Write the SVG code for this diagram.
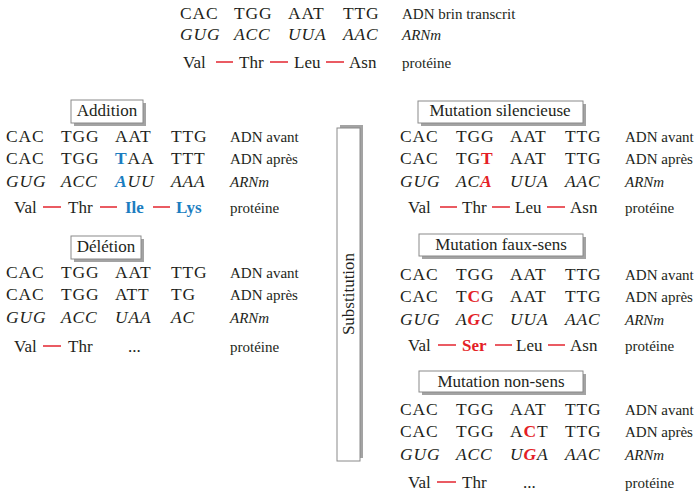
<svg xmlns="http://www.w3.org/2000/svg" width="700" height="496" viewBox="0 0 700 496">
<style>
text{fill:#231f20}
.c{font-size:17.5px;letter-spacing:0.8px}
.i{font-style:italic}
.l{font-size:15px}
.p{font-size:17px}
.t{font-size:17px;text-anchor:middle}
.d{stroke:#e5323b;stroke-width:1.6}
.b{fill:#1b7dc0;font-weight:bold}
.r{fill:#e41e26;font-weight:bold}
.box{fill:#fff;stroke:#8a8a8a;stroke-width:1}
.sh{fill:#a3a3a3}
</style>
<rect width="700" height="496" fill="#fff"/>

<g id="reference" font-family="Liberation Serif">
<text class="c" x="180" y="19">CAC</text><text class="c" x="234" y="19">TGG</text><text class="c" x="288" y="19">AAT</text><text class="c" x="343" y="19">TTG</text>
<text class="l" x="402" y="19">ADN brin transcrit</text>
<text class="c i" x="180" y="40">GUG</text><text class="c i" x="234" y="40">ACC</text><text class="c i" x="288" y="40">UUA</text><text class="c i" x="343" y="40">AAC</text>
<text class="l i" x="402" y="40">ARNm</text>
<text class="p" x="183" y="68">Val</text><line class="d" x1="216" y1="62" x2="233" y2="62"/>
<text class="p" x="239" y="68">Thr</text><line class="d" x1="270" y1="62" x2="288" y2="62"/>
<text class="p" x="294" y="68">Leu</text><line class="d" x1="326" y1="62" x2="344" y2="62"/>
<text class="p" x="349" y="68">Asn</text>
<text class="l" x="402" y="68">protéine</text>
</g>

<g id="addition" font-family="Liberation Serif">
<rect class="sh" x="74" y="103" width="72" height="23"/>
<rect class="box" x="71" y="100" width="72" height="23"/>
<text class="t" x="107" y="116">Addition</text>
<text class="c" x="6" y="142">CAC</text><text class="c" x="61" y="142">TGG</text><text class="c" x="115" y="142">AAT</text><text class="c" x="171" y="142">TTG</text>
<text class="l" x="230" y="142">ADN avant</text>
<text class="c" x="6" y="164">CAC</text><text class="c" x="61" y="164">TGG</text><text class="c" x="115" y="164"><tspan class="b">T</tspan>AA</text><text class="c" x="171" y="164">TTT</text>
<text class="l" x="230" y="164">ADN après</text>
<text class="c i" x="6" y="187">GUG</text><text class="c i" x="61" y="187">ACC</text><text class="c i" x="115" y="187"><tspan class="b">A</tspan>UU</text><text class="c i" x="171" y="187">AAA</text>
<text class="l i" x="230" y="187">ARNm</text>
<text class="p" x="14" y="213">Val</text><line class="d" x1="43" y1="207" x2="61" y2="207"/>
<text class="p" x="68" y="213">Thr</text><line class="d" x1="100" y1="207" x2="117" y2="207"/>
<text class="p b" x="125" y="213">Ile</text><line class="d" x1="153" y1="207" x2="170" y2="207"/>
<text class="p b" x="176" y="213">Lys</text>
<text class="l" x="230" y="213">protéine</text>
</g>

<g id="deletion" font-family="Liberation Serif">
<rect class="sh" x="74" y="239" width="70" height="23"/>
<rect class="box" x="71" y="236" width="70" height="23"/>
<text class="t" x="106" y="252">Délétion</text>
<text class="c" x="6" y="278">CAC</text><text class="c" x="61" y="278">TGG</text><text class="c" x="115" y="278">AAT</text><text class="c" x="171" y="278">TTG</text>
<text class="l" x="230" y="278">ADN avant</text>
<text class="c" x="6" y="300">CAC</text><text class="c" x="61" y="300">TGG</text><text class="c" x="115" y="300">ATT</text><text class="c" x="171" y="300">TG</text>
<text class="l" x="230" y="300">ADN après</text>
<text class="c i" x="6" y="323">GUG</text><text class="c i" x="61" y="323">ACC</text><text class="c i" x="115" y="323">UAA</text><text class="c i" x="171" y="323">AC</text>
<text class="l i" x="230" y="323">ARNm</text>
<text class="p" x="14" y="352">Val</text><line class="d" x1="43" y1="346" x2="61" y2="346"/>
<text class="p" x="68" y="352">Thr</text>
<text class="p" x="128" y="352">...</text>
<text class="l" x="230" y="352">protéine</text>
</g>

<g id="substitution" font-family="Liberation Serif">
<rect class="sh" x="340" y="125" width="23" height="333"/>
<rect class="box" x="337" y="128" width="23" height="333"/>
<text class="t" transform="translate(354 294) rotate(-90)" x="0" y="0">Substitution</text>
</g>

<g id="silencieuse" font-family="Liberation Serif">
<rect class="sh" x="421" y="104" width="165" height="22"/>
<rect class="box" x="418" y="101" width="165" height="22"/>
<text class="t" x="500" y="116">Mutation silencieuse</text>
<text class="c" x="400" y="142">CAC</text><text class="c" x="456" y="142">TGG</text><text class="c" x="510" y="142">AAT</text><text class="c" x="565" y="142">TTG</text>
<text class="l" x="625" y="142">ADN avant</text>
<text class="c" x="400" y="164">CAC</text><text class="c" x="456" y="164">TG<tspan class="r">T</tspan></text><text class="c" x="510" y="164">AAT</text><text class="c" x="565" y="164">TTG</text>
<text class="l" x="625" y="164">ADN après</text>
<text class="c i" x="400" y="187">GUG</text><text class="c i" x="456" y="187">AC<tspan class="r">A</tspan></text><text class="c i" x="510" y="187">UUA</text><text class="c i" x="565" y="187">AAC</text>
<text class="l i" x="625" y="187">ARNm</text>
<text class="p" x="408" y="213">Val</text><line class="d" x1="440" y1="207" x2="457" y2="207"/>
<text class="p" x="462" y="213">Thr</text><line class="d" x1="492" y1="207" x2="510" y2="207"/>
<text class="p" x="515" y="213">Leu</text><line class="d" x1="547" y1="207" x2="565" y2="207"/>
<text class="p" x="570" y="213">Asn</text>
<text class="l" x="625" y="213">protéine</text>
</g>

<g id="fauxsens" font-family="Liberation Serif">
<rect class="sh" x="422" y="237" width="164" height="22"/>
<rect class="box" x="419" y="234" width="164" height="22"/>
<text class="t" x="501" y="250">Mutation faux-sens</text>
<text class="c" x="400" y="280">CAC</text><text class="c" x="456" y="280">TGG</text><text class="c" x="510" y="280">AAT</text><text class="c" x="565" y="280">TTG</text>
<text class="l" x="625" y="280">ADN avant</text>
<text class="c" x="400" y="302">CAC</text><text class="c" x="456" y="302">T<tspan class="r">C</tspan>G</text><text class="c" x="510" y="302">AAT</text><text class="c" x="565" y="302">TTG</text>
<text class="l" x="625" y="302">ADN après</text>
<text class="c i" x="400" y="325">GUG</text><text class="c i" x="456" y="325">A<tspan class="r">G</tspan>C</text><text class="c i" x="510" y="325">UUA</text><text class="c i" x="565" y="325">AAC</text>
<text class="l i" x="625" y="325">ARNm</text>
<text class="p" x="408" y="351">Val</text><line class="d" x1="438" y1="345" x2="456" y2="345"/>
<text class="p r" x="462" y="351">Ser</text><line class="d" x1="495" y1="345" x2="512" y2="345"/>
<text class="p" x="516" y="351">Leu</text><line class="d" x1="548" y1="345" x2="565" y2="345"/>
<text class="p" x="570" y="351">Asn</text>
<text class="l" x="625" y="351">protéine</text>
</g>

<g id="nonsens" font-family="Liberation Serif">
<rect class="sh" x="422" y="374" width="164" height="21"/>
<rect class="box" x="419" y="371" width="164" height="21"/>
<text class="t" x="501" y="387">Mutation non-sens</text>
<text class="c" x="400" y="415">CAC</text><text class="c" x="456" y="415">TGG</text><text class="c" x="510" y="415">AAT</text><text class="c" x="565" y="415">TTG</text>
<text class="l" x="625" y="415">ADN avant</text>
<text class="c" x="400" y="437">CAC</text><text class="c" x="456" y="437">TGG</text><text class="c" x="510" y="437">A<tspan class="r">C</tspan>T</text><text class="c" x="565" y="437">TTG</text>
<text class="l" x="625" y="437">ADN après</text>
<text class="c i" x="400" y="460">GUG</text><text class="c i" x="456" y="460">ACC</text><text class="c i" x="510" y="460">U<tspan class="r">G</tspan>A</text><text class="c i" x="565" y="460">AAC</text>
<text class="l i" x="625" y="460">ARNm</text>
<text class="p" x="408" y="488">Val</text><line class="d" x1="437" y1="482" x2="456" y2="482"/>
<text class="p" x="462" y="488">Thr</text>
<text class="p" x="523" y="488">...</text>
<text class="l" x="625" y="488">protéine</text>
</g>
</svg>
